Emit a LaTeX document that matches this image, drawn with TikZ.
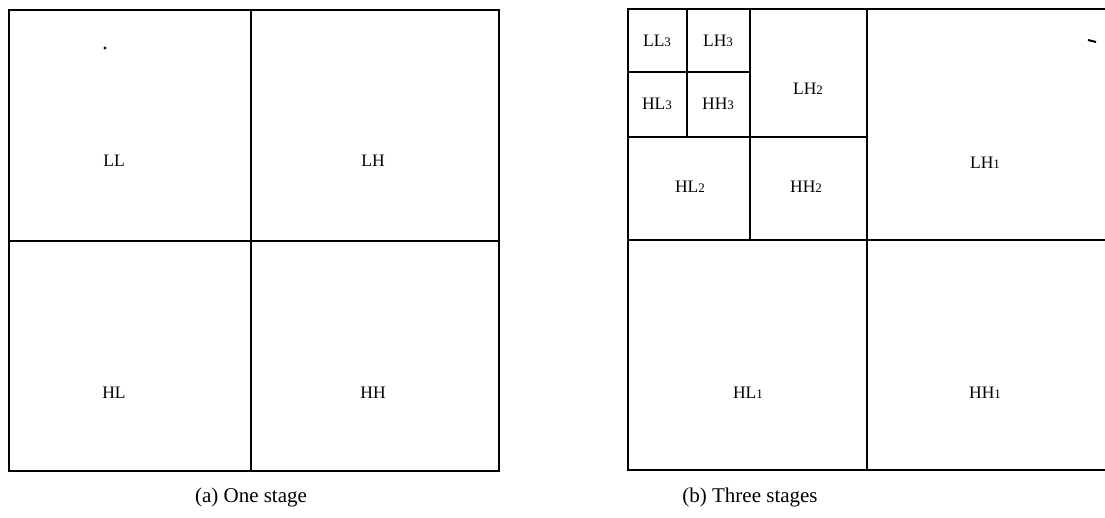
\documentclass[tikz,border=0pt]{standalone}
\usepackage{fontspec}
\setmainfont{Liberation Serif}
\begin{document}
\begin{tikzpicture}[x=1pt,y=-1pt,
  grid/.style={line width=2.8pt,line cap=rect},
  lbl/.style={font=\fontsize{17.5}{17.5}\selectfont,inner sep=0pt},
  caption/.style={font=\fontsize{21}{21}\selectfont,inner sep=0pt}]
\newcommand{\ix}[1]{{\fontsize{13}{13}\selectfont #1}}
\useasboundingbox (0,0) rectangle (1105,517);
\clip (0,0) rectangle (1105,517);
% (a) one decomposition stage
\draw[grid] (9,10) rectangle (499,471);
\draw[grid] (251,10) -- (251,471);
\draw[grid] (9,241) -- (499,241);
\fill (105,48) circle (1.6pt);
\node[lbl] (ll) at (114,161) {LL};
\node[lbl] (lh) at (373,161) {LH};
\node[lbl] (hl) at (114,393) {HL};
\node[lbl] (hh) at (373,393) {HH};
\node[caption] (capa) at (251,497) {(a) One stage};
% (b) three decomposition stages
\draw[grid] (628,9) -- (1110,9);
\draw[grid] (628,9) -- (628,470) -- (1110,470);
\draw[grid] (867,9) -- (867,470);
\draw[grid] (628,240) -- (1110,240);
\draw[grid] (750,9) -- (750,240);
\draw[grid] (628,137) -- (867,137);
\draw[grid] (687,9) -- (687,137);
\draw[grid] (628,72) -- (750,72);
\draw[line width=2pt] (1088,40) -- (1096,42);
\node[lbl] (ll3) at (657,41) {LL\ix{3}};
\node[lbl] (lh3) at (718,41) {LH\ix{3}};
\node[lbl] (hl3) at (657,104) {HL\ix{3}};
\node[lbl] (hh3) at (718,104) {HH\ix{3}};
\node[lbl] (lh2) at (808,89) {LH\ix{2}};
\node[lbl] (hl2) at (690,187) {HL\ix{2}};
\node[lbl] (hh2) at (806,187) {HH\ix{2}};
\node[lbl] (lh1) at (985,163) {LH\ix{1}};
\node[lbl] (hl1) at (748,393) {HL\ix{1}};
\node[lbl] (hh1) at (985,393) {HH\ix{1}};
\node[caption] (capb) at (750,497) {(b) Three stages};
\end{tikzpicture}
\end{document}
